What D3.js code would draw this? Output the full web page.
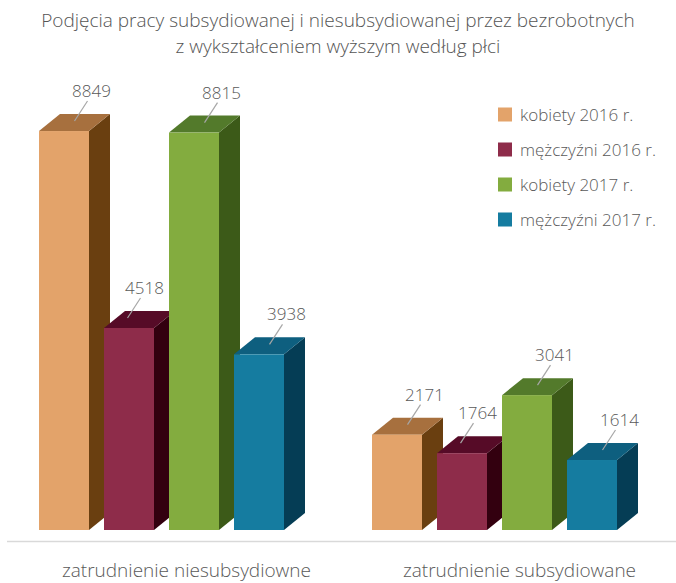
<!DOCTYPE html>
<html>
<head>
<meta charset="utf-8">
<script src="https://cdn.jsdelivr.net/npm/d3@7"></script>
<style>
  body { margin: 0; background: #fff; }
  text { font-family: "Open Sans", Lato, sans-serif; }
</style>
</head>
<body>
<script>
// chart data
var categories = ["zatrudnienie niesubsydiowne", "zatrudnienie subsydiowane"];
var series = ["kobiety 2016 r.", "mężczyźni 2016 r.", "kobiety 2017 r.", "mężczyźni 2017 r."];
var values = [
    [8849, 4518, 8815, 3938],
    [2171, 1764, 3041, 1614]
];
var titleLines = ["Podjęcia pracy subsydiowanej i niesubsydiowanej przez bezrobotnych",
    "z wykształceniem wyższym według płci"];

// colours per series: front, top, side
var frontColor = ["#e3a36a", "#8e2c4a", "#83ac3f", "#157ca0"];
var topColor = ["#a7703e", "#560b27", "#537a2b", "#0e5f7f"];
var sideColor = ["#6a3f10", "#33000f", "#3c5a18", "#053d55"];
// label nudge so the second series' labels don't run into the next bar
var labelNudge = [0, -12, 0, 0];

var width = 676, height = 583;
var depthX = 21, depthY = -17;
var base = 530;

var svg = d3.select("body")
    .append("svg")
    .attr("width", width)
    .attr("height", height);

var x0 = d3.scaleBand().domain(categories).range([22, 688]);
var x1 = d3.scaleBand().domain(series).range([0, 245]).paddingInner(15 / 65).paddingOuter(0);
var y = d3.scaleLinear().domain([0, 9000]).range([533.4, 533.4 - 9000 * 0.04547]);

// title
svg.append("g")
    .selectAll("text")
    .data(titleLines)
    .enter().append("text")
    .attr("x", 338)
    .attr("y", function (d, i) { return 27 + i * 26; })
    .attr("text-anchor", "middle")
    .style("font-size", "19px")
    .style("font-weight", 300)
    .style("fill", "#555")
    .text(function (d) { return d; });

// axis line
svg.append("line")
    .attr("x1", 7).attr("x2", width)
    .attr("y1", 541.5).attr("y2", 541.5)
    .style("stroke", "#d9d9d9")
    .style("stroke-width", 1.5);

// category labels
svg.append("g")
    .selectAll("text")
    .data(categories)
    .enter().append("text")
    .attr("x", function (d) { return x0(d) + x0.bandwidth() / 2 - 2; })
    .attr("y", 576.5)
    .attr("text-anchor", "middle")
    .style("font-size", "19px")
    .style("font-weight", 300)
    .style("fill", "#595959")
    .text(function (d) { return d; });

var bw = x1.bandwidth();
var labels = [];

categories.forEach(function (cat, ci) {
    var g = svg.append("g");
    series.forEach(function (s, si) {
        var v = values[ci][si];
        var left = x0(cat) + 17 + x1(s);
        var top = y(v);
        var bar = g.append("g");
        // side face
        bar.append("path")
            .attr("d", "M" + (left + bw) + "," + base +
                "L" + (left + bw) + "," + top +
                "L" + (left + bw + depthX) + "," + (top + depthY) +
                "L" + (left + bw + depthX) + "," + (base + depthY) + "Z")
            .style("fill", sideColor[si]);
        // top face
        bar.append("path")
            .attr("d", "M" + left + "," + top +
                "L" + (left + depthX) + "," + (top + depthY) +
                "L" + (left + bw + depthX) + "," + (top + depthY) +
                "L" + (left + bw) + "," + top + "Z")
            .style("fill", topColor[si]);
        // front face
        bar.append("rect")
            .attr("x", left)
            .attr("y", top)
            .attr("width", bw)
            .attr("height", base - top)
            .style("fill", frontColor[si]);

        labels.push({v: v, lx: left + bw / 2 + depthX / 2 + labelNudge[si], ly: top - 10});
    });
});

// leader lines and value labels on top of bars
var lab = svg.append("g")
    .selectAll("g")
    .data(labels)
    .enter().append("g");

lab.append("line")
    .attr("x1", function (d) { return d.lx; })
    .attr("y1", function (d) { return d.ly; })
    .attr("x2", function (d) { return d.lx + 13; })
    .attr("y2", function (d) { return d.ly - 20; })
    .style("stroke", "#a6a6a6")
    .style("stroke-width", 1.2);

lab.append("text")
    .attr("x", function (d) { return d.lx + 17; })
    .attr("y", function (d) { return d.ly - 24; })
    .attr("text-anchor", "middle")
    .style("font-size", "17px")
    .style("font-weight", 300)
    .style("fill", "#595959")
    .text(function (d) { return d.v; });

// legend
var legend = svg.append("g")
    .selectAll("g")
    .data(series)
    .enter().append("g")
    .attr("transform", function (d, i) { return "translate(498," + (107.5 + i * 35) + ")"; });

legend.append("rect")
    .attr("width", 14)
    .attr("height", 14)
    .style("fill", function (d, i) { return frontColor[i]; });

legend.append("text")
    .attr("x", 22)
    .attr("y", 13)
    .style("font-size", "17px")
    .style("font-weight", 300)
    .style("fill", "#595959")
    .text(function (d) { return d; });
</script>
</body>
</html>
